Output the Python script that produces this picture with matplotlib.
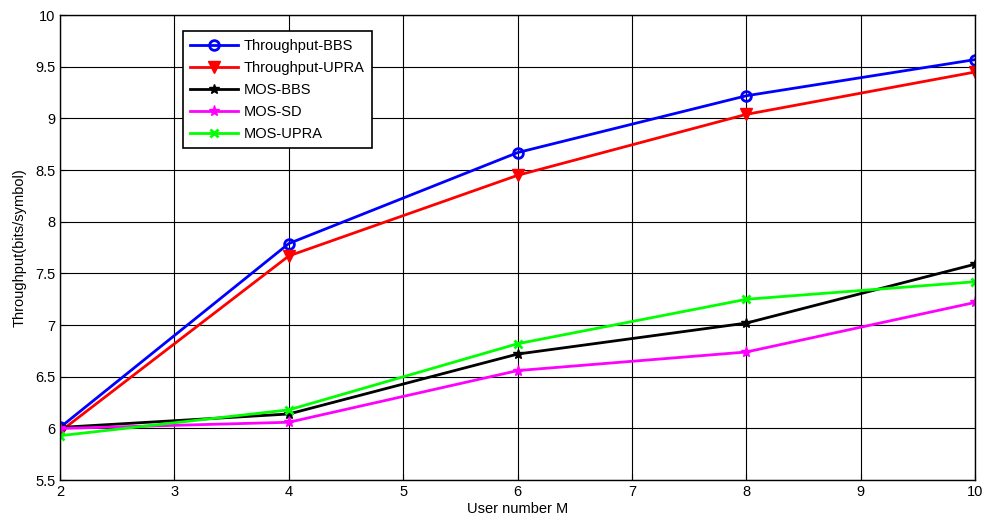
import numpy as np
import matplotlib.pyplot as plt

plt.rcParams['font.family'] = ['Liberation Sans', 'DejaVu Sans']

users = [2, 4, 6, 8, 10]
thr_bbs = [6.01, 7.79, 8.67, 9.22, 9.57]
thr_upra = [5.97, 7.67, 8.45, 9.04, 9.45]
mos_bbs = [6.01, 6.14, 6.72, 7.02, 7.59]
mos_sd = [6.00, 6.06, 6.56, 6.74, 7.22]
mos_upra = [5.93, 6.18, 6.82, 7.25, 7.42]

fig = plt.figure(figsize=(9.85, 5.23), dpi=100)
ax = fig.add_axes([0.061, 0.082, 0.929, 0.889])

ax.plot(users, thr_bbs, 'b-o', lw=2, ms=7, mfc='none', mew=2, label='Throughput-BBS')
ax.plot(users, thr_upra, 'r-v', lw=2, ms=9, label='Throughput-UPRA')
ax.plot(users, mos_bbs, 'k-*', lw=2, ms=7, label='MOS-BBS')
ax.plot(users, mos_sd, '-*', color='magenta', lw=2, ms=8, label='MOS-SD')
ax.plot(users, mos_upra, '-x', color='#00ff00', lw=2, ms=6, mew=2, label='MOS-UPRA')

ax.set_xlim(2, 10)
ax.set_ylim(5.5, 10)
ax.set_xticks(range(2, 11))
ax.set_yticks(np.arange(5.5, 10.01, 0.5))
ax.set_yticklabels(['5.5', '6', '6.5', '7', '7.5', '8', '8.5', '9', '9.5', '10'])
ax.grid(True, color='k', lw=0.8)
ax.tick_params(direction='in', labelsize=10.5, length=4)
for s in ax.spines.values():
    s.set_linewidth(1)

ax.set_xlabel('User number M', fontsize=10.5, labelpad=2)
ax.set_ylabel('Throughput(bits/symbol)', fontsize=10.5, labelpad=6)

leg = ax.legend(loc='upper left', bbox_to_anchor=(0.134, 0.965), borderaxespad=0,
                fontsize=10.5, fancybox=False, edgecolor='k', framealpha=1,
                borderpad=0.5, handlelength=3.3, handletextpad=0.4,
                labelspacing=0.55)
leg.get_frame().set_linewidth(1.2)

fig.savefig('out.png', dpi=100)
